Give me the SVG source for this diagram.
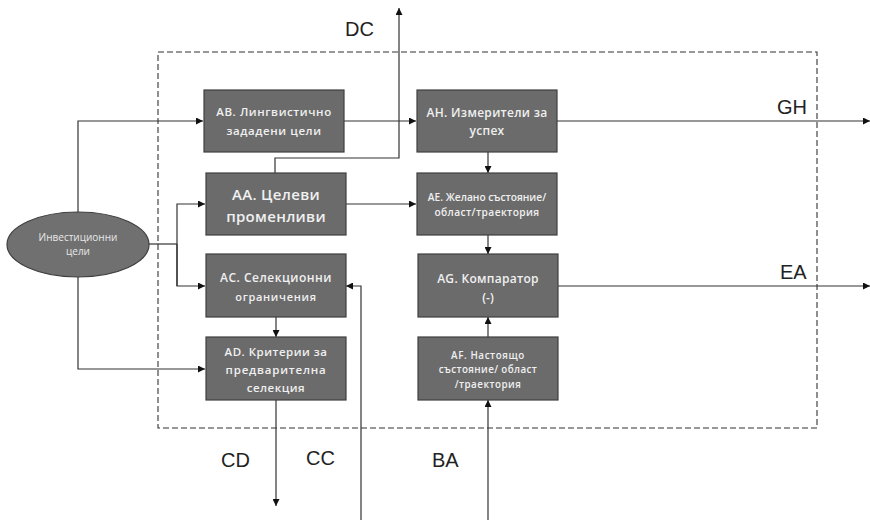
<svg xmlns="http://www.w3.org/2000/svg" width="870" height="520" viewBox="0 0 870 520">
  <style>
    .box { fill: #6b6b6b; stroke: #3f3f3f; stroke-width: 1.2; }
    .bt { fill: #f0f0f0; font-family: "Open Sans", "Noto Sans", sans-serif; font-weight: 600; text-anchor: middle; }
    .lbl { fill: #222; font-family: "Liberation Sans", Arial, sans-serif; font-size: 20px; }
    .wire { fill: none; stroke: #333; stroke-width: 1.2; }
    .frame { fill: none; stroke: #333; stroke-width: 1.1; stroke-dasharray: 6 3; }
  </style>
  <defs>
    <marker id="arr" viewBox="0 0 10 10" refX="10" refY="5" markerWidth="7" markerHeight="7" markerUnits="userSpaceOnUse" orient="auto">
      <path d="M0,0 L10,5 L0,10 z" fill="#111"/>
    </marker>
  </defs>
  <rect width="870" height="520" fill="#fff"/>

  <!-- system boundary -->
  <rect class="frame" x="158" y="52" width="659" height="376"/>

  <!-- connectors -->
  <g id="connectors">
    <path class="wire" d="M78,212 V121 H203" marker-end="url(#arr)"/>
    <path class="wire" d="M78,277 V369 H205" marker-end="url(#arr)"/>
    <path class="wire" d="M149,244 H177"/>
    <path class="wire" d="M177,286 V204 H205" marker-end="url(#arr)"/>
    <path class="wire" d="M177,244 V286 H205" marker-end="url(#arr)"/>
    <path class="wire" d="M344,121 H416" marker-end="url(#arr)"/>
    <path class="wire" d="M346,204 H416" marker-end="url(#arr)"/>
    <path class="wire" d="M275,173 V158 H399 V8" marker-end="url(#arr)"/>
    <path class="wire" d="M488,152 V173" marker-end="url(#arr)"/>
    <path class="wire" d="M488,235 V254" marker-end="url(#arr)"/>
    <path class="wire" d="M488,337 V317" marker-end="url(#arr)"/>
    <path class="wire" d="M488,520 V400" marker-end="url(#arr)"/>
    <path class="wire" d="M276,317 V337" marker-end="url(#arr)"/>
    <path class="wire" d="M276,400 V506" marker-end="url(#arr)"/>
    <path class="wire" d="M361,520 V286 H346" marker-end="url(#arr)"/>
    <path class="wire" d="M557,121 H870" marker-end="url(#arr)"/>
    <path class="wire" d="M558,286 H870" marker-end="url(#arr)"/>
  </g>

  <!-- flow labels -->
  <text class="lbl" x="345" y="36">DC</text>
  <text class="lbl" x="777" y="114">GH</text>
  <text class="lbl" x="780" y="279">EA</text>
  <text class="lbl" x="221" y="467">CD</text>
  <text class="lbl" x="306" y="465">CC</text>
  <text class="lbl" x="432" y="467">BA</text>

  <!-- investment goals -->
  <g id="investment-goals">
    <ellipse cx="78" cy="244.5" rx="71" ry="32.5" fill="#707070" stroke="#3f3f3f" stroke-width="1.2"/>
    <text x="78" y="241" fill="#e8e8e8" font-family="Open Sans, sans-serif" font-size="10" text-anchor="middle">Инвестиционни</text>
    <text x="78" y="255" fill="#e8e8e8" font-family="Open Sans, sans-serif" font-size="10" text-anchor="middle">цели</text>
  </g>

  <g id="AB">
    <rect class="box" x="204" y="90" width="140" height="62"/>
    <text class="bt" x="274" y="116" font-size="11.5" letter-spacing="0.6">АВ. Лингвистично</text>
    <text class="bt" x="274" y="135" font-size="11.5" letter-spacing="0.6">зададени цели</text>
  </g>
  <g id="AH">
    <rect class="box" x="417" y="90" width="140" height="62"/>
    <text class="bt" x="487" y="117" font-size="12" letter-spacing="0.3">АН. Измерители за</text>
    <text class="bt" x="487" y="135" font-size="12" letter-spacing="0.3">успех</text>
  </g>
  <g id="AA">
    <rect class="box" x="206" y="173" width="140" height="62"/>
    <text class="bt" x="276" y="200" font-size="15" letter-spacing="0.3">АА. Целеви</text>
    <text class="bt" x="276" y="222" font-size="15" letter-spacing="0.3">променливи</text>
  </g>
  <g id="AE">
    <rect class="box" x="417" y="173" width="140" height="62"/>
    <text class="bt" x="487" y="201" font-size="10.2">АЕ. Желано състояние/</text>
    <text class="bt" x="487" y="216" font-size="10.2" letter-spacing="0.4">област/траектория</text>
  </g>
  <g id="AC">
    <rect class="box" x="206" y="254" width="140" height="63"/>
    <text class="bt" x="276" y="282" font-size="12" letter-spacing="0.5">АС. Селекционни</text>
    <text class="bt" x="276" y="301" font-size="11" letter-spacing="0.7">ограничения</text>
  </g>
  <g id="AG">
    <rect class="box" x="418" y="254" width="140" height="63"/>
    <text class="bt" x="488" y="283" font-size="12" letter-spacing="0.3">AG. Компаратор</text>
    <text class="bt" x="488" y="302" font-size="12">(-)</text>
  </g>
  <g id="AD">
    <rect class="box" x="206" y="337" width="140" height="63"/>
    <text class="bt" x="276" y="356" font-size="11.5" letter-spacing="0.5">AD. Критерии за</text>
    <text class="bt" x="276" y="374" font-size="11.5" letter-spacing="0.8">предварителна</text>
    <text class="bt" x="276" y="392" font-size="11.5" letter-spacing="0.5">селекция</text>
  </g>
  <g id="AF">
    <rect class="box" x="418" y="337" width="140" height="63"/>
    <text class="bt" x="488" y="359" font-size="9.8" letter-spacing="0.6">AF. Настоящо</text>
    <text class="bt" x="488" y="373" font-size="9.8" letter-spacing="0.4">състояние/ област</text>
    <text class="bt" x="488" y="388" font-size="9.8" letter-spacing="0.5">/траектория</text>
  </g>
</svg>
